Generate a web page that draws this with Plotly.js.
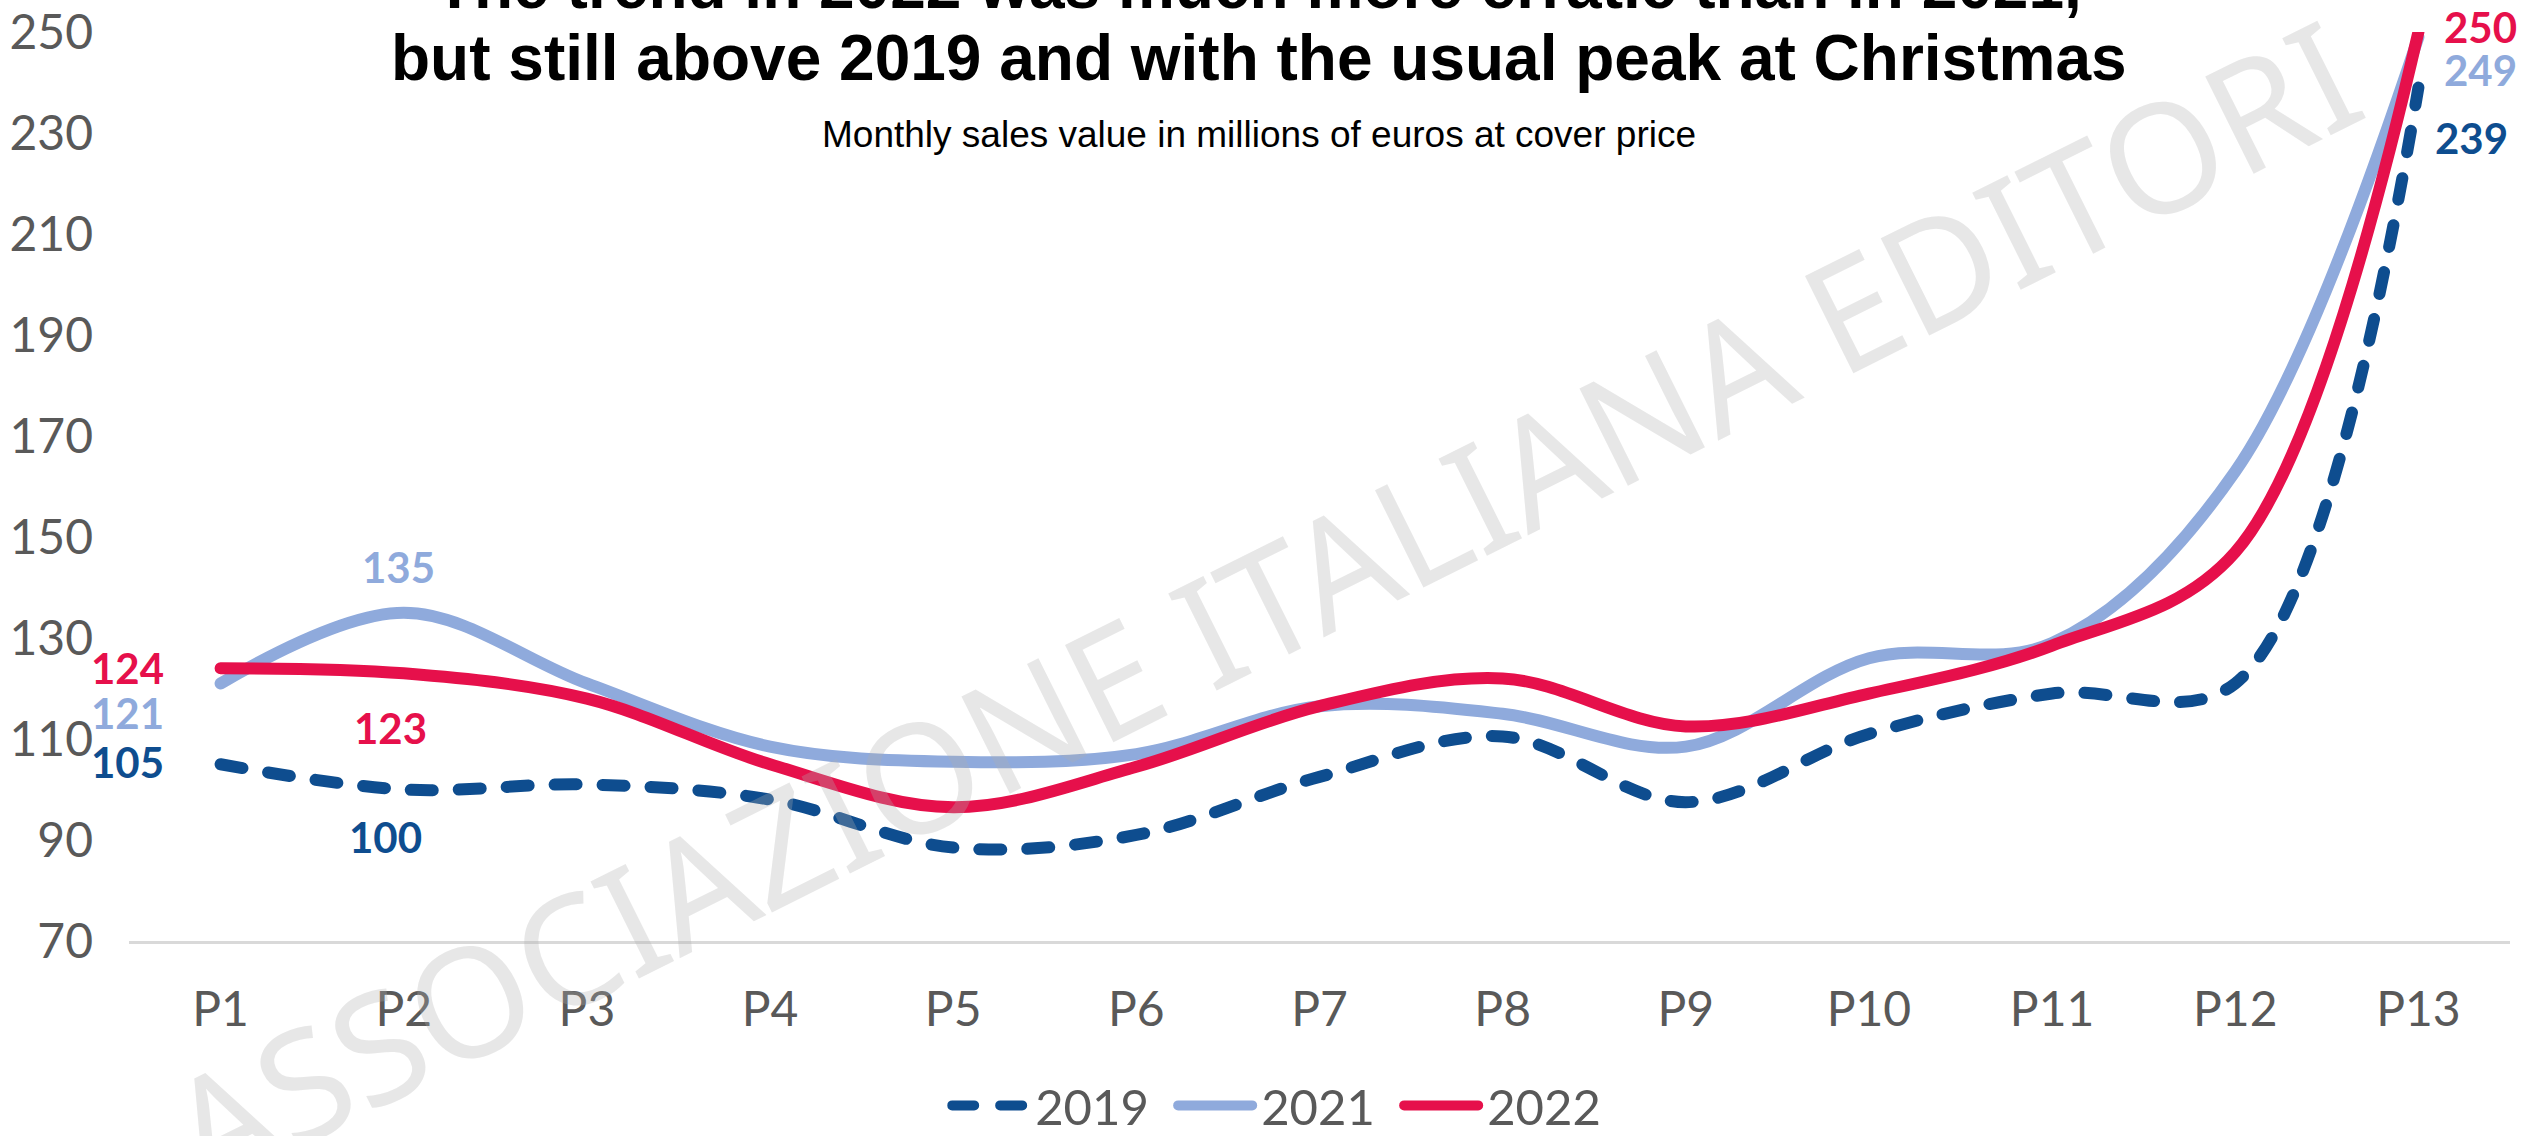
<!DOCTYPE html>
<html>
<head>
<meta charset="utf-8">
<script src="https://cdn.plot.ly/plotly-3.0.1.min.js"></script>
<style>
  html, body { margin: 0; padding: 0; background: #ffffff; }
  #chart { width: 2524px; height: 1136px; }
  .js-line { stroke-linecap: round; }
</style>
</head>
<body>
<div id="chart"></div>
<script>
// ---- data ----
const categories = ["P1","P2","P3","P4","P5","P6","P7","P8","P9","P10","P11","P12","P13"];
const seriesNames = ["2019","2021","2022"];
const values2019 = [105, 100, 101, 98, 88.5, 91, 102.5, 110.5, 97.5, 111, 119, 121, 239];
const values2021 = [121, 135, 121, 108.5, 105.5, 107, 116.5, 115, 108.5, 126, 129, 163, 249];
const values2022 = [124, 123, 118, 105, 96.5, 104.5, 116.5, 122, 112.5, 119, 128.5, 147, 250];
const yTicks = [70, 90, 110, 130, 150, 170, 190, 210, 230, 250];

const titleLine1 = "The trend in 2022 was much more erratic than in 2021,";
const titleLine2 = "but still above 2019 and with the usual peak at Christmas";
const subtitle = "Monthly sales value in millions of euros at cover price";
const watermark = "ASSOCIAZIONE ITALIANA EDITORI";

// labelled points: series index, category index, pixel offsets
const labelSeries = [2, 1, 0, 1, 2, 0, 2, 1, 0];
const labelIndex  = [0, 0, 0, 1, 1, 1, 12, 12, 12];
const labelDX     = [-93, -93, -93, -5, -13, -18, 62, 62, 53];
const labelDY     = [0, -30, 2, 46, -55, -47, 5, -33, -50];

// ---- styles ----
const colors = ["#0E4D8F", "#8FAADC", "#E6104B"];
const allValues = [values2019, values2021, values2022];
const dashes = ["22px,26px", "solid", "solid"];
const tickColor = "#595959";
const tickFont = {family: "Lato, 'Open Sans', sans-serif", size: 48, color: tickColor};

const traces = allValues.map((vals, i) => ({
  type: "scatter",
  mode: "lines",
  name: seriesNames[i],
  x: categories,
  y: vals,
  cliponaxis: false,
  line: {color: colors[i], width: 12, dash: dashes[i], shape: "spline", smoothing: 1},
  hoverinfo: "skip"
}));

const annotations = [];
for (let k = 0; k < labelSeries.length; k++) {
  const s = labelSeries[k], idx = labelIndex[k];
  annotations.push({
    x: categories[idx], y: allValues[s][idx], xref: "x", yref: "y",
    text: String(Math.round(allValues[s][idx])),
    showarrow: false, xshift: labelDX[k], yshift: labelDY[k],
    font: {family: "Lato, 'Open Sans', sans-serif", size: 42, color: colors[s], weight: 700}
  });
}
// titles
annotations.push({
  xref: "paper", yref: "paper", x: 0.4745, y: 1.0506, xanchor: "center", yanchor: "middle",
  text: "<b>" + titleLine1 + "</b>", showarrow: false,
  font: {family: "'Liberation Sans', Arial, sans-serif", size: 64, color: "#000000"}
});
annotations.push({
  xref: "paper", yref: "paper", x: 0.4745, y: 0.9714, xanchor: "center", yanchor: "middle",
  text: "<b>" + titleLine2 + "</b>", showarrow: false,
  font: {family: "'Liberation Sans', Arial, sans-serif", size: 64, color: "#000000"}
});
annotations.push({
  xref: "paper", yref: "paper", x: 0.4745, y: 0.887, xanchor: "center", yanchor: "middle",
  text: subtitle, showarrow: false,
  font: {family: "'Liberation Sans', Arial, sans-serif", size: 37, color: "#000000"}
});
// watermark
annotations.push({
  xref: "paper", yref: "paper", x: 0.476, y: 0.372, xanchor: "center", yanchor: "middle",
  text: watermark, showarrow: false, textangle: -26.5,
  font: {family: "'Noto Sans', sans-serif", size: 152, color: "rgba(175,175,175,0.3)"}
});

const layout = {
  width: 2524, height: 1136,
  margin: {l: 129, r: 14, t: 32, b: 195, pad: 0, autoexpand: false},
  paper_bgcolor: "#ffffff", plot_bgcolor: "#ffffff",
  showlegend: true,
  legend: {
    orientation: "h", x: 0.486, xanchor: "center", y: -0.181, yanchor: "middle",
    font: {family: "Lato, 'Open Sans', sans-serif", size: 49, color: tickColor},
    itemwidth: 78, entrywidth: 133, entrywidthmode: "pixels",
    bgcolor: "rgba(0,0,0,0)"
  },
  xaxis: {
    type: "category", categoryorder: "array", categoryarray: categories,
    range: [-0.5, categories.length - 0.5],
    showgrid: false, zeroline: false,
    showline: true, linecolor: "#D9D9D9", linewidth: 3,
    ticks: "", tickfont: tickFont, ticklabelstandoff: 24,
    fixedrange: true
  },
  yaxis: {
    range: [70, 250], tickvals: yTicks, ticktext: yTicks.map(String),
    showgrid: false, zeroline: false, showline: false,
    ticks: "", tickfont: tickFont, ticklabelstandoff: 35,
    fixedrange: true
  },
  annotations: annotations
};

Plotly.newPlot("chart", traces, layout, {displayModeBar: false, staticPlot: true}).then(() => {
  // lengthen the legend line samples to match the wider item width
  document.querySelectorAll("#chart .legend .legendlines path").forEach(p => {
    p.setAttribute("d", "M5,0h" + (layout.legend.itemwidth - 4));
  });
});
</script>
</body>
</html>
